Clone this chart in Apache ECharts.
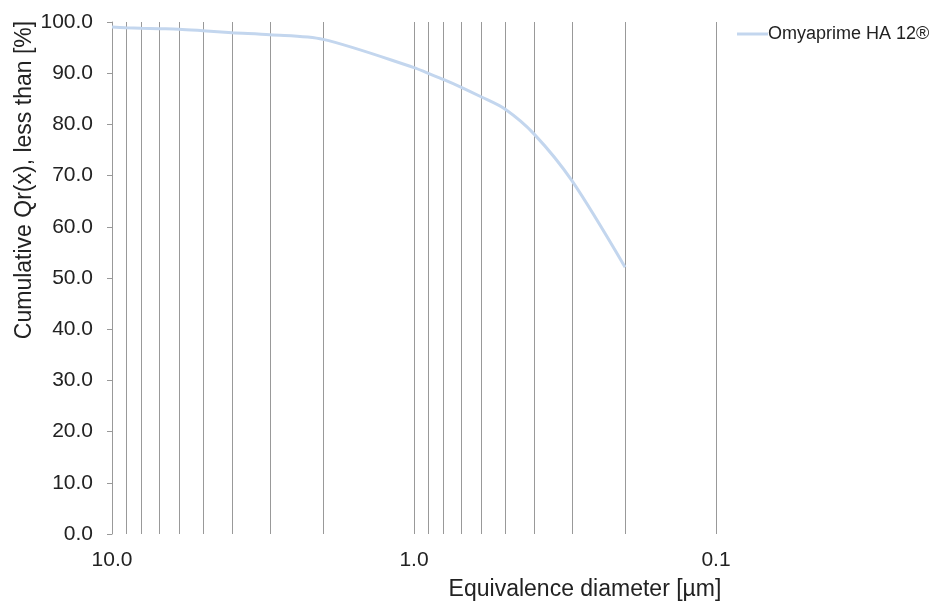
<!DOCTYPE html>
<html>
<head>
<meta charset="utf-8">
<title>Omyaprime HA 12 - cumulative distribution</title>
<script src="https://cdn.jsdelivr.net/npm/echarts@6/dist/echarts.min.js"></script>
<style>
  html, body { margin: 0; padding: 0; background: #fff; }
  #chart { width: 938px; height: 606px; }
</style>
</head>
<body>
<div id="chart"></div>
<script>
  // particle size [µm] and cumulative % less than
  var diameters = [10, 9, 8, 7, 6, 5, 4, 3, 2, 1, 0.9, 0.8, 0.7, 0.6, 0.5, 0.4, 0.3, 0.2];
  var cumulative = [99.0, 98.9, 98.8, 98.7, 98.6, 98.3, 97.9, 97.5, 96.6, 91.1, 90.0, 88.8, 87.3, 85.4, 83.0, 78.1, 69.0, 52.1];
  // vertical grid lines of the log axis
  var gridValues = [9, 8, 7, 6, 5, 4, 3, 2, 1, 0.9, 0.8, 0.7, 0.6, 0.5, 0.4, 0.3, 0.2, 0.1];
  var seriesName = 'Omyaprime HA 12®';

  var font = '"Liberation Sans", Arial, sans-serif';
  var textColor = '#222';

  var points = diameters.map(function (d, i) {
    return [d, cumulative[i]];
  });

  var myChart = echarts.init(document.getElementById('chart'));
  var option = {
    animation: false,
    grid: { left: 112, right: 222, top: 22, bottom: 72 },
    legend: {
      left: 737,
      top: 25,
      padding: 0,
      icon: 'rect',
      itemWidth: 31,
      itemHeight: 3,
      textStyle: { fontFamily: font, fontSize: 18, color: textColor, padding: [0, 0, 0, -5] },
      data: [seriesName]
    },
    xAxis: {
      type: 'log',
      logBase: 10,
      min: 0.1,
      max: 10,
      inverse: true,
      axisLine: { show: false },
      axisTick: { show: false },
      splitLine: { show: false },
      axisLabel: {
        margin: 16,
        fontFamily: font,
        fontSize: 21,
        color: textColor,
        formatter: function (v) { return v.toFixed(1); }
      }
    },
    yAxis: {
      type: 'value',
      min: 0,
      max: 100,
      interval: 10,
      axisLine: { show: true, lineStyle: { color: '#999', width: 1 } },
      axisTick: { show: true, inside: false, length: 5, lineStyle: { color: '#999' } },
      splitLine: { show: false },
      axisLabel: {
        margin: 19,
        fontFamily: font,
        fontSize: 21,
        color: textColor,
        formatter: function (v) { return v.toFixed(1); }
      }
    },
    graphic: [
      {
        type: 'text',
        x: 585,
        y: 590,
        style: {
          text: 'Equivalence diameter [µm]',
          font: '23px ' + font,
          fill: textColor,
          textAlign: 'center',
          textVerticalAlign: 'middle'
        }
      },
      {
        type: 'text',
        x: 25,
        y: 180,
        rotation: Math.PI / 2,
        style: {
          text: 'Cumulative Qr(x), less than [%]',
          font: '23px ' + font,
          fill: textColor,
          textAlign: 'center',
          textVerticalAlign: 'middle'
        }
      }
    ],
    series: [
      {
        name: seriesName,
        type: 'line',
        data: points,
        smooth: 0.3,
        showSymbol: false,
        z: 5,
        itemStyle: { color: '#c3d6ee' },
        lineStyle: { color: '#c3d6ee', width: 3 },
        markLine: {
          silent: true,
          symbol: ['none', 'none'],
          label: { show: false },
          lineStyle: { color: '#999', width: 1, type: 'solid' },
          data: gridValues.map(function (v) { return { xAxis: v }; })
        }
      }
    ]
  };
  myChart.setOption(option);
</script>
</body>
</html>
